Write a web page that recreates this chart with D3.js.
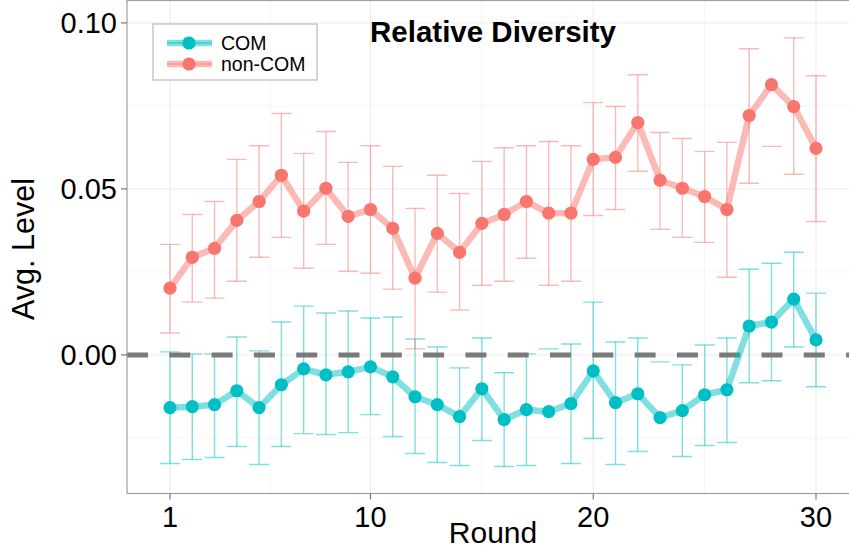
<!DOCTYPE html>
<html>
<head>
<meta charset="utf-8">
<script src="https://cdn.jsdelivr.net/npm/d3@7"></script>
<style>
  html, body { margin: 0; padding: 0; background: #fff; }
  svg { display: block; font-family: "Liberation Sans", Arial, Helvetica, sans-serif; }
</style>
</head>
<body>
<svg id="chart" width="849" height="548"></svg>
<script>
// rounds on the x axis
const rounds = [1, 2, 3, 4, 5, 6, 7, 8, 9, 10, 11, 12, 13, 14, 15,
                16, 17, 18, 19, 20, 21, 22, 23, 24, 25, 26, 27, 28, 29, 30];

// COM series
const comMean = [-0.0159, -0.0156, -0.0150, -0.0108, -0.0159, -0.0090, -0.0042, -0.0060, -0.0051, -0.0036,
                 -0.0066, -0.0126, -0.0150, -0.0186, -0.0102, -0.0195, -0.0165, -0.0171, -0.0147, -0.0048,
                 -0.0144, -0.0117, -0.0189, -0.0168, -0.0120, -0.0105, 0.0087, 0.0099, 0.0168, 0.0045];
const comLow = [-0.0327, -0.0315, -0.0309, -0.0276, -0.0330, -0.0276, -0.0237, -0.0240, -0.0234, -0.0180,
                -0.0246, -0.0297, -0.0324, -0.0333, -0.0258, -0.0336, -0.0333, -0.0360, -0.0327, -0.0252,
                -0.0330, -0.0291, -0.0358, -0.0306, -0.0273, -0.0264, -0.0084, -0.0078, 0.0024, -0.0096];
const comHigh = [0.0009, 0.0003, 0.0003, 0.0054, 0.0012, 0.0099, 0.0147, 0.0126, 0.0132, 0.0111,
                 0.0114, 0.0048, 0.0024, -0.0039, 0.0051, -0.0054, 0.0003, 0.0018, 0.0033, 0.0159,
                 0.0039, 0.0051, -0.0021, -0.0030, 0.0030, 0.0051, 0.0258, 0.0276, 0.0309, 0.0186];

// non-COM series
const nonMean = [0.0201, 0.0294, 0.0321, 0.0405, 0.0462, 0.0541, 0.0433, 0.0502, 0.0417, 0.0438,
                 0.0381, 0.0231, 0.0366, 0.0309, 0.0396, 0.0423, 0.0462, 0.0427, 0.0427, 0.0589,
                 0.0595, 0.0700, 0.0526, 0.0502, 0.0477, 0.0438, 0.0721, 0.0814, 0.0748, 0.0622];
const nonLow = [0.0066, 0.0159, 0.0171, 0.0222, 0.0294, 0.0354, 0.0261, 0.0333, 0.0252, 0.0246,
                0.0198, 0.0018, 0.0189, 0.0135, 0.0210, 0.0222, 0.0291, 0.0210, 0.0222, 0.0420,
                0.0438, 0.0553, 0.0378, 0.0354, 0.0339, 0.0234, 0.0517, 0.0628, 0.0544, 0.0402];
const nonHigh = [0.0333, 0.0423, 0.0462, 0.0589, 0.0630, 0.0727, 0.0607, 0.0673, 0.0580, 0.0630,
                 0.0568, 0.0441, 0.0541, 0.0486, 0.0583, 0.0624, 0.0630, 0.0643, 0.0630, 0.0760,
                 0.0748, 0.0844, 0.0670, 0.0652, 0.0613, 0.0640, 0.0922, 0.1010, 0.0955, 0.0841];

const xTicks = [1, 10, 20, 30];
const xMinor = [5.5, 15, 25];
const yTicks = [0, 0.05, 0.10];
const yMinor = [-0.025, 0.025, 0.075];
const yLimits = [-0.035, 0.10];   // values outside are dropped (like ggplot ylim)

const seriesNames = ['COM', 'non-COM'];
const seriesColors = ['#00BFC4', '#F8766D'];

const series = [
  { name: seriesNames[0], color: seriesColors[0], mean: comMean, low: comLow, high: comHigh },
  { name: seriesNames[1], color: seriesColors[1], mean: nonMean, low: nonLow, high: nonHigh }
];

const svg = d3.select('#chart');
const P = { left: 127, right: 859, top: 0.5, bottom: 493.5 };

const x = d3.scaleLinear().domain([-0.93, 31.93]).range([P.left, P.right]);
const yPad = (yLimits[1] - yLimits[0]) * 0.05;
const y = d3.scaleLinear().domain([yLimits[0] - yPad, yLimits[1] + yPad]).range([P.bottom, P.top]);

svg.append('defs').append('clipPath').attr('id', 'panel-clip')
  .append('rect').attr('x', P.left).attr('y', P.top)
  .attr('width', P.right - P.left).attr('height', P.bottom - P.top);

// panel grid
const grid = svg.append('g');
grid.selectAll('line.minx').data(xMinor).join('line')
  .attr('x1', d => x(d)).attr('x2', d => x(d)).attr('y1', P.top).attr('y2', P.bottom)
  .attr('stroke', '#f2f2f2').attr('stroke-width', 0.8);
grid.selectAll('line.miny').data(yMinor).join('line')
  .attr('x1', P.left).attr('x2', P.right).attr('y1', d => y(d)).attr('y2', d => y(d))
  .attr('stroke', '#f2f2f2').attr('stroke-width', 0.8);
grid.selectAll('line.majx').data(xTicks).join('line')
  .attr('x1', d => x(d)).attr('x2', d => x(d)).attr('y1', P.top).attr('y2', P.bottom)
  .attr('stroke', '#ebebeb').attr('stroke-width', 1);
grid.selectAll('line.majy').data(yTicks).join('line')
  .attr('x1', P.left).attr('x2', P.right).attr('y1', d => y(d)).attr('y2', d => y(d))
  .attr('stroke', '#ebebeb').attr('stroke-width', 1);

const plot = svg.append('g').attr('clip-path', 'url(#panel-clip)');

// error bars: parts outside the limits are dropped
const inLim = v => v >= yLimits[0] && v <= yLimits[1];
const CAP = 10;
series.forEach(s => {
  const g = plot.append('g')
    .attr('stroke', s.color).attr('stroke-opacity', 0.5).attr('stroke-width', 1.4).attr('fill', 'none');
  rounds.forEach((r, i) => {
    const lo = s.low[i], hi = s.high[i];
    const cx = x(r);
    if (inLim(hi)) g.append('line').attr('x1', cx - CAP).attr('x2', cx + CAP).attr('y1', y(hi)).attr('y2', y(hi));
    if (inLim(lo)) g.append('line').attr('x1', cx - CAP).attr('x2', cx + CAP).attr('y1', y(lo)).attr('y2', y(lo));
    if (inLim(lo) && inLim(hi)) g.append('line').attr('x1', cx).attr('x2', cx).attr('y1', y(hi)).attr('y2', y(lo));
  });
});

// zero reference line
plot.append('line')
  .attr('x1', P.left).attr('x2', P.right).attr('y1', y(0)).attr('y2', y(0))
  .attr('stroke', '#7a7a7a').attr('stroke-width', 5).attr('stroke-dasharray', '21 21.3');

// lines and points
const line = d3.line().x((d, i) => x(rounds[i])).y(d => y(d));
series.forEach(s => {
  plot.append('path').datum(s.mean)
    .attr('d', line)
    .attr('fill', 'none').attr('stroke', s.color).attr('stroke-opacity', 0.5)
    .attr('stroke-width', 6.5).attr('stroke-linejoin', 'round');
  plot.append('g').selectAll('circle').data(s.mean).join('circle')
    .attr('cx', (d, i) => x(rounds[i])).attr('cy', d => y(d)).attr('r', 6.6)
    .attr('fill', s.color);
});

// panel border
svg.append('rect')
  .attr('x', P.left).attr('y', P.top).attr('width', P.right - P.left).attr('height', P.bottom - P.top)
  .attr('fill', 'none').attr('stroke', '#a0a0a0').attr('stroke-width', 1.2);

// axes
const axisY = svg.append('g');
axisY.selectAll('line').data(yTicks).join('line')
  .attr('x1', P.left - 6).attr('x2', P.left).attr('y1', d => y(d)).attr('y2', d => y(d))
  .attr('stroke', '#777').attr('stroke-width', 1.2);
axisY.selectAll('text').data(yTicks).join('text')
  .attr('x', P.left - 10).attr('y', d => y(d)).attr('dy', '0.36em')
  .attr('text-anchor', 'end').attr('font-size', 29).attr('fill', '#000')
  .text(d => d3.format('.2f')(d));

const axisX = svg.append('g');
axisX.selectAll('line').data(xTicks).join('line')
  .attr('x1', d => x(d)).attr('x2', d => x(d)).attr('y1', P.bottom).attr('y2', P.bottom + 6)
  .attr('stroke', '#777').attr('stroke-width', 1.2);
axisX.selectAll('text').data(xTicks).join('text')
  .attr('x', d => x(d)).attr('y', 527)
  .attr('text-anchor', 'middle').attr('font-size', 29).attr('fill', '#000')
  .text(d => d);

// axis titles
svg.append('text')
  .attr('x', 493).attr('y', 543)
  .attr('text-anchor', 'middle').attr('font-size', 30).attr('fill', '#000')
  .text('Round');
svg.append('text')
  .attr('transform', 'translate(34,249) rotate(-90)')
  .attr('text-anchor', 'middle').attr('font-size', 30.5).attr('fill', '#000')
  .text('Avg. Level');

// title
svg.append('text')
  .attr('x', 493).attr('y', 42)
  .attr('text-anchor', 'middle').attr('font-size', 29.5).attr('font-weight', 700).attr('fill', '#000')
  .text('Relative Diversity');

// legend
const legend = svg.append('g');
legend.append('rect')
  .attr('x', 153).attr('y', 24).attr('width', 164).attr('height', 56)
  .attr('fill', '#fff').attr('stroke', '#c8c8c8').attr('stroke-width', 1.5);
series.forEach((s, i) => {
  const ly = 43 + i * 21;
  legend.append('line').attr('x1', 167).attr('x2', 212).attr('y1', ly).attr('y2', ly)
    .attr('stroke', s.color).attr('stroke-opacity', 0.5).attr('stroke-width', 6.5);
  legend.append('line').attr('x1', 167).attr('x2', 212).attr('y1', ly).attr('y2', ly)
    .attr('stroke', s.color).attr('stroke-opacity', 0.5).attr('stroke-width', 1.4);
  legend.append('circle').attr('cx', 189).attr('cy', ly).attr('r', 6.6).attr('fill', s.color);
  legend.append('text').attr('x', 221).attr('y', ly).attr('dy', '0.36em')
    .attr('font-size', 19.5).attr('fill', '#000').text(s.name);
});
</script>
</body>
</html>
